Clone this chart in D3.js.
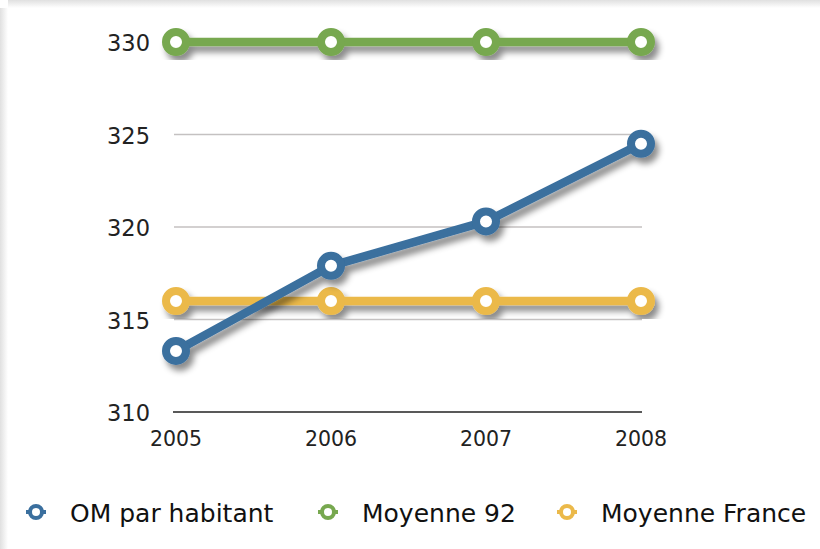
<!DOCTYPE html>
<html>
<head>
<meta charset="utf-8">
<script src="https://cdn.jsdelivr.net/npm/d3@7"></script>
<style>
  body { margin: 0; background: #fff; }
  svg { display: block; font-family: "DejaVu Sans", sans-serif; }
</style>
</head>
<body>
<svg width="820" height="549"></svg>
<script>
  const years = [2005, 2006, 2007, 2008];
  const omParHabitant = [313.3, 317.9, 320.3, 324.5];
  const moyenne92 = [330, 330, 330, 330];
  const moyenneFrance = [316, 316, 316, 316];
  const yTicks = [310, 315, 320, 325, 330];
  const seriesNames = ["OM par habitant", "Moyenne 92", "Moyenne France"];
  const seriesColors = ["#3a6f9e", "#77a84f", "#ebb94a"];

  const svg = d3.select("svg");
  const defs = svg.append("defs");

  // soft frame shadow on top / left edges
  const gTop = defs.append("linearGradient").attr("id", "edgeTop")
      .attr("x1", 0).attr("y1", 0).attr("x2", 0).attr("y2", 1);
  gTop.append("stop").attr("offset", "0%").attr("stop-color", "#e0e0e0");
  gTop.append("stop").attr("offset", "100%").attr("stop-color", "#fff");
  const gLeft = defs.append("linearGradient").attr("id", "edgeLeft")
      .attr("x1", 0).attr("y1", 0).attr("x2", 1).attr("y2", 0);
  gLeft.append("stop").attr("offset", "0%").attr("stop-color", "#e0e0e0");
  gLeft.append("stop").attr("offset", "100%").attr("stop-color", "#fff");
  svg.append("rect").attr("x", 8).attr("y", 0).attr("width", 812).attr("height", 8).attr("fill", "url(#edgeTop)");
  svg.append("rect").attr("x", 0).attr("y", 8).attr("width", 8).attr("height", 541).attr("fill", "url(#edgeLeft)");

  const shadow = defs.append("filter").attr("id", "shadow")
      .attr("x", "-10%").attr("y", "-20%").attr("width", "130%").attr("height", "160%");
  shadow.append("feDropShadow")
      .attr("dx", 4).attr("dy", 6).attr("stdDeviation", 3)
      .attr("flood-color", "#000").attr("flood-opacity", 0.45);

  const x = d3.scalePoint().domain(years).range([176, 641]);
  const y = d3.scaleLinear().domain([310, 330]).range([412, 42]);

  // gridlines
  svg.append("g").selectAll("line")
    .data(yTicks.filter(t => t !== 310 && t !== 330))
    .enter().append("line")
      .attr("x1", 174).attr("x2", 642)
      .attr("y1", d => y(d)).attr("y2", d => y(d))
      .attr("stroke", "#c4c1c1").attr("stroke-width", 1.5);

  svg.append("line")
      .attr("x1", 173).attr("x2", 642)
      .attr("y1", y(310)).attr("y2", y(310))
      .attr("stroke", "#222").attr("stroke-width", 1.5);

  // y labels
  svg.append("g").selectAll("text")
    .data(yTicks).enter().append("text")
      .attr("x", 150).attr("y", d => y(d) + 9)
      .attr("text-anchor", "end")
      .attr("font-size", 22.5).attr("fill", "#222")
      .text(d => d);

  // x labels
  svg.append("g").selectAll("text")
    .data(years).enter().append("text")
      .attr("x", d => x(d)).attr("y", 446)
      .attr("text-anchor", "middle")
      .attr("font-size", 20.5).attr("fill", "#222")
      .text(d => d);

  const seriesData = [omParHabitant, moyenne92, moyenneFrance];
  const line = d3.line().x((d, i) => x(years[i])).y(d => y(d));

  // draw order: green, yellow, blue on top
  [1, 2, 0].forEach(k => {
    const g = svg.append("g").attr("filter", "url(#shadow)");
    g.append("path")
        .attr("d", line(seriesData[k]))
        .attr("fill", "none")
        .attr("stroke", seriesColors[k])
        .attr("stroke-width", 8.5)
        .attr("stroke-linejoin", "round");
    g.selectAll("circle").data(seriesData[k]).enter().append("circle")
        .attr("cx", (d, i) => x(years[i]))
        .attr("cy", d => y(d))
        .attr("r", 10)
        .attr("fill", "#fff")
        .attr("stroke", seriesColors[k])
        .attr("stroke-width", 8);
  });

  // legend
  const legendX = [36, 328, 567];
  const legend = svg.append("g").selectAll("g")
    .data(seriesNames).enter().append("g")
      .attr("transform", (d, i) => `translate(${legendX[i]},512)`);
  legend.append("line")
      .attr("x1", -10).attr("x2", 10)
      .attr("stroke", (d, i) => seriesColors[i]).attr("stroke-width", 4);
  legend.append("circle")
      .attr("r", 6).attr("fill", "#fff")
      .attr("stroke", (d, i) => seriesColors[i]).attr("stroke-width", 4);
  legend.append("text")
      .attr("x", 34).attr("y", 9.5)
      .attr("font-size", 25).attr("fill", "#111")
      .text(d => d);
</script>
</body>
</html>
